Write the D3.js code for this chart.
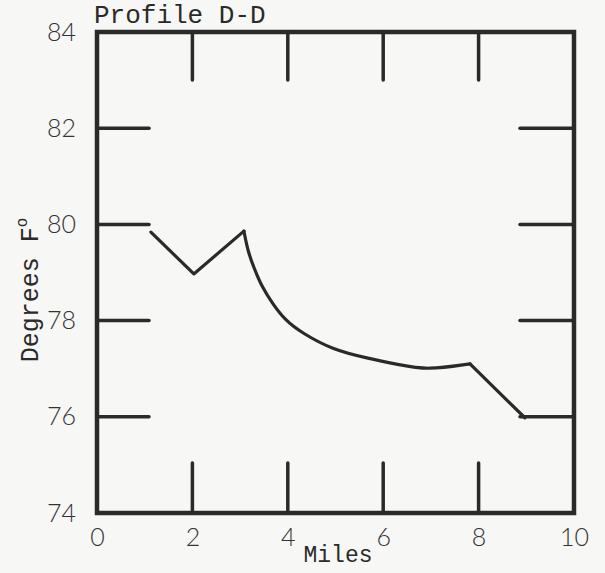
<!DOCTYPE html>
<html>
<head>
<meta charset="utf-8">
<script src="https://cdn.jsdelivr.net/npm/d3@7/dist/d3.min.js"></script>
<style>
  html, body { margin: 0; padding: 0; background: #f7f7f5; }
  svg { display: block; }
  .num { font-family: Lato, "Open Sans", sans-serif; font-weight: 300; font-size: 25px; fill: #333; }
  .mono { font-family: "Liberation Mono", "DejaVu Sans Mono", monospace; fill: #2a2a2a; }
</style>
</head>
<body>
<svg id="chart" width="605" height="573"></svg>
<script>
// Temperature profile along section D-D
const miles = [1.13, 2.03, 3.08, 3.17, 3.31, 3.46, 3.67, 3.94, 4.30, 4.95, 5.66, 6.35, 6.92, 7.82, 8.97];
const temps = [79.84, 78.97, 79.86, 79.41, 79.05, 78.70, 78.37, 78.01, 77.74, 77.39, 77.22, 77.08, 76.97, 77.10, 75.98];

const xTicks = [0, 2, 4, 6, 8, 10];
const yTicks = [74, 76, 78, 80, 82, 84];
const innerXTicks = [2, 4, 6, 8];
const innerYTicks = [76, 78, 80, 82];

const title = "Profile D-D";
const xTitle = "Miles";
const yTitle = "Degrees F";

const ink = "#2a2a2a";
const svg = d3.select("#chart");

const x = d3.scaleLinear().domain([0, 10]).range([97, 574]);
const y = d3.scaleLinear().domain([74, 84]).range([513, 32]);

// tick labels via axes (no lines)
const xAxis = svg.append("g")
  .attr("transform", `translate(0,${y(74)})`)
  .call(d3.axisBottom(x).tickValues(xTicks).tickSize(0).tickPadding(15).tickFormat(d3.format("d")));
xAxis.select(".domain").remove();
xAxis.selectAll("text").attr("class", "num").attr("font-size", null).attr("font-family", null);

const yAxis = svg.append("g")
  .attr("transform", `translate(${x(0)},0)`)
  .call(d3.axisLeft(y).tickValues(yTicks).tickSize(0).tickPadding(21).tickFormat(d3.format("d")));
yAxis.select(".domain").remove();
yAxis.selectAll("text").attr("class", "num").attr("font-size", null).attr("font-family", null);

// frame
svg.append("rect")
  .attr("x", x(0)).attr("y", y(84))
  .attr("width", x(10) - x(0)).attr("height", y(74) - y(84))
  .attr("fill", "none").attr("stroke", ink).attr("stroke-width", 4.5);

// inner tick marks
const tickG = svg.append("g").attr("stroke", ink).attr("stroke-width", 3.5).attr("stroke-linecap", "round");
tickG.selectAll(".tt").data(innerXTicks).join("line")
  .attr("x1", d => x(d)).attr("x2", d => x(d))
  .attr("y1", y(84)).attr("y2", y(84) + 48);
tickG.selectAll(".tb").data(innerXTicks).join("line")
  .attr("x1", d => x(d)).attr("x2", d => x(d))
  .attr("y1", y(74)).attr("y2", y(74) - 50);
tickG.selectAll(".tl").data(innerYTicks).join("line")
  .attr("x1", x(0)).attr("x2", x(0) + 52)
  .attr("y1", d => y(d)).attr("y2", d => y(d));
tickG.selectAll(".tr").data(innerYTicks).join("line")
  .attr("x1", x(10)).attr("x2", x(10) - 54)
  .attr("y1", d => y(d)).attr("y2", d => y(d));

// profile line: straight legs with a smooth decline in between
const pts = miles.map((m, i) => [m, temps[i]]);
const straight = d3.line().x(d => x(d[0])).y(d => y(d[1])).curve(d3.curveLinear);
const smooth = d3.line().x(d => x(d[0])).y(d => y(d[1])).curve(d3.curveBasis);
const lineG = svg.append("g").attr("fill", "none").attr("stroke", ink)
  .attr("stroke-width", 3.2).attr("stroke-linejoin", "round").attr("stroke-linecap", "round");
const last = pts.length - 1;
lineG.append("path").attr("d", straight(pts.slice(0, 3)));
lineG.append("path").attr("d", smooth(pts.slice(2, last)));
lineG.append("path").attr("d", straight(pts.slice(last - 1)));

// titles
svg.append("text").attr("class", "mono")
  .attr("x", 94).attr("y", 23).attr("font-size", 26).text(title);

svg.append("text").attr("class", "mono")
  .attr("x", 338).attr("y", 562).attr("text-anchor", "middle").attr("font-size", 23).text(xTitle);

const yt = svg.append("text").attr("class", "mono")
  .attr("transform", `translate(38,290) rotate(-90)`)
  .attr("text-anchor", "middle").attr("font-size", 25);
yt.append("tspan").text(yTitle);
yt.append("tspan").attr("dy", -11).attr("font-size", 16).text("o");
</script>
</body>
</html>
